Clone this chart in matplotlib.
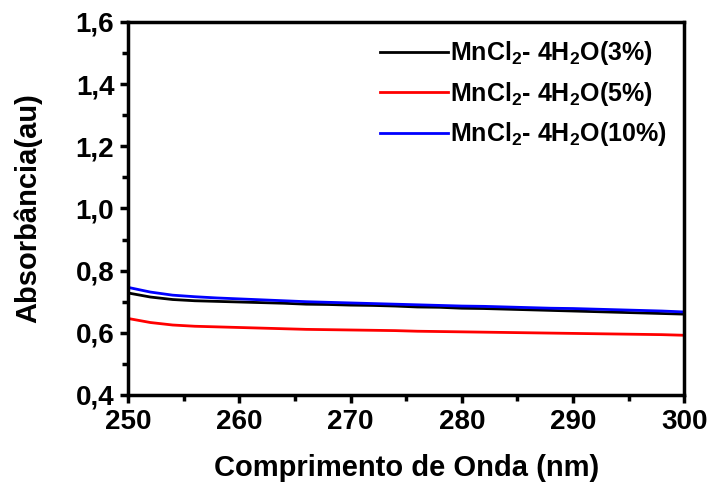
import numpy as np
import matplotlib.pyplot as plt
from matplotlib.ticker import MultipleLocator, FuncFormatter

plt.rcParams['font.family'] = ['Liberation Sans', 'DejaVu Sans']
plt.rcParams['font.weight'] = 'bold'
plt.rcParams['mathtext.fontset'] = 'custom'
plt.rcParams['mathtext.rm'] = 'Liberation Sans:bold'
plt.rcParams['mathtext.default'] = 'rm'

# comprimento de onda (nm)
wl = [250, 252, 254, 256, 258, 260, 262, 264, 266, 268, 270, 272, 274, 276,
      278, 280, 282, 284, 286, 288, 290, 292, 294, 296, 298, 300]

abs_3 = [0.728, 0.715, 0.707, 0.703, 0.701, 0.699, 0.697, 0.695, 0.692, 0.691,
         0.689, 0.688, 0.686, 0.683, 0.682, 0.679, 0.678, 0.676, 0.674, 0.672,
         0.670, 0.668, 0.666, 0.664, 0.662, 0.660]
abs_5 = [0.646, 0.633, 0.625, 0.621, 0.619, 0.617, 0.615, 0.613, 0.611, 0.610,
         0.609, 0.608, 0.607, 0.605, 0.604, 0.603, 0.602, 0.601, 0.600, 0.599,
         0.598, 0.597, 0.596, 0.595, 0.594, 0.592]
abs_10 = [0.746, 0.731, 0.721, 0.716, 0.712, 0.709, 0.706, 0.703, 0.700, 0.698,
          0.696, 0.694, 0.692, 0.690, 0.688, 0.686, 0.685, 0.683, 0.681, 0.679,
          0.678, 0.676, 0.674, 0.672, 0.670, 0.667]

labels = [r'MnCl$_2$- 4H$_2$O(3%)', r'MnCl$_2$- 4H$_2$O(5%)', r'MnCl$_2$- 4H$_2$O(10%)']

fig = plt.figure(figsize=(7.12, 4.87), dpi=100)
ax = fig.add_axes([0.18, 0.189, 0.781, 0.766])

ax.plot(wl, abs_3, color='black', lw=2, label=labels[0])
ax.plot(wl, abs_5, color='red', lw=2, label=labels[1])
ax.plot(wl, abs_10, color='blue', lw=2, label=labels[2])

ax.set_xlim(250, 300)
ax.set_ylim(0.4, 1.6)
ax.xaxis.set_major_locator(MultipleLocator(10))
ax.xaxis.set_minor_locator(MultipleLocator(5))
ax.yaxis.set_major_locator(MultipleLocator(0.2))
ax.yaxis.set_minor_locator(MultipleLocator(0.1))
ax.yaxis.set_major_formatter(FuncFormatter(lambda v, p: f'{v:.1f}'.replace('.', ',')))

for s in ax.spines.values():
    s.set_linewidth(2.5)
ax.tick_params(which='major', direction='out', length=6, width=2.5, labelsize=20, pad=4)
ax.tick_params(which='minor', direction='out', length=4, width=2.5)

ax.set_xlabel('Comprimento de Onda (nm)', fontsize=21, fontweight='bold', labelpad=14)
ax.set_ylabel('Absorbância(au)', fontsize=21, fontweight='bold', labelpad=24)

leg = ax.legend(loc='upper right', frameon=False, fontsize=18, handlelength=2.7,
                handletextpad=0.1, borderaxespad=0.3, labelspacing=0.5)

fig.savefig('out.png', dpi=100)
